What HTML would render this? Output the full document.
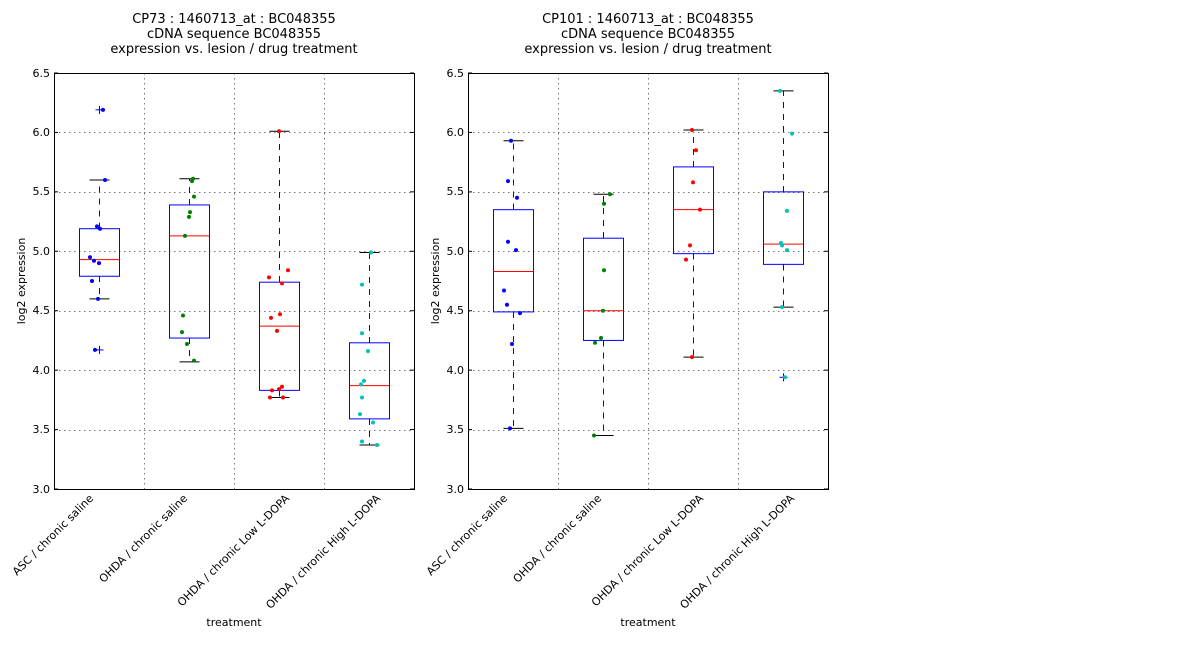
<!DOCTYPE html>
<html><head><meta charset="utf-8"><style>
body{margin:0;background:#fff;width:1200px;height:640px;overflow:hidden}
svg{font-family:"DejaVu Sans","Liberation Sans",sans-serif}
</style></head><body>
<svg id="s" width="1200" height="640" xmlns="http://www.w3.org/2000/svg">
<g font-size="13" text-anchor="middle" fill="#000">
<text x="234" y="23">CP73 : 1460713_at : BC048355</text>
<text x="234" y="38">cDNA sequence BC048355</text>
<text x="234" y="53">expression vs. lesion / drug treatment</text>
<text x="648" y="23">CP101 : 1460713_at : BC048355</text>
<text x="648" y="38">cDNA sequence BC048355</text>
<text x="648" y="53">expression vs. lesion / drug treatment</text>
</g>
<g font-size="11" text-anchor="end">
<text x="50" y="493">3.0</text><text x="50" y="433">3.5</text><text x="50" y="374">4.0</text><text x="50" y="314">4.5</text><text x="50" y="255">5.0</text><text x="50" y="195">5.5</text><text x="50" y="136">6.0</text><text x="50" y="77">6.5</text>
<text x="464" y="493">3.0</text><text x="464" y="433">3.5</text><text x="464" y="374">4.0</text><text x="464" y="314">4.5</text><text x="464" y="255">5.0</text><text x="464" y="195">5.5</text><text x="464" y="136">6.0</text><text x="464" y="77">6.5</text>
</g>
<g font-size="11" text-anchor="middle">
<text transform="translate(25,281) rotate(-90)">log2 expression</text>
<text transform="translate(439,281) rotate(-90)">log2 expression</text>
<text x="234" y="626">treatment</text>
<text x="648" y="626">treatment</text>
</g>
<g font-size="11" text-anchor="end">
<text transform="translate(94,499) rotate(-45)">ASC / chronic saline</text>
<text transform="translate(188,499) rotate(-45)">OHDA / chronic saline</text>
<text transform="translate(290,499) rotate(-45)">OHDA / chronic Low L-DOPA</text>
<text transform="translate(381,499) rotate(-45)">OHDA / chronic High L-DOPA</text>
<text transform="translate(508,499) rotate(-45)">ASC / chronic saline</text>
<text transform="translate(602,499) rotate(-45)">OHDA / chronic saline</text>
<text transform="translate(704,499) rotate(-45)">OHDA / chronic Low L-DOPA</text>
<text transform="translate(795,499) rotate(-45)">OHDA / chronic High L-DOPA</text>
</g>
</svg>
<script>
var s=document.getElementById('s'),NS='http://www.w3.org/2000/svg';
function el(t,a){var e=document.createElementNS(NS,t);for(var k in a)e.setAttribute(k,a[k]);s.appendChild(e);return e;}
function Y(v){return 489-(v-3)*118.857;}
var cols=['#0000ff','#008000','#ff0000','#00bfbf'];
var P=[
 {x0:54,b:[[4.79,5.19,4.93,4.60,5.60,[6.19,4.17]],[4.27,5.39,5.13,4.07,5.61,[]],[3.83,4.74,4.37,3.77,6.01,[]],[3.59,4.23,3.87,3.37,4.99,[]]],
  p:[[[6.19,103],[5.60,105],[5.21,97],[5.19,100],[4.95,90],[4.92,94],[4.90,99],[4.75,92],[4.60,98],[4.17,95]],
     [[5.61,193],[5.59,192],[5.46,194],[5.33,190],[5.29,189],[5.13,185],[4.46,183],[4.32,182],[4.22,187],[4.08,194]],
     [[6.01,279],[4.84,288],[4.78,269],[4.73,282],[4.47,280],[4.44,271],[4.33,277],[3.86,282],[3.84,279],[3.83,272],[3.77,270],[3.77,283]],
     [[4.99,371],[4.72,362],[4.31,362],[4.16,368],[3.91,364],[3.88,361],[3.77,362],[3.63,360],[3.56,373],[3.40,362],[3.37,377]]]},
 {x0:468,b:[[4.49,5.35,4.83,3.51,5.93,[]],[4.25,5.11,4.50,3.45,5.48,[]],[4.98,5.71,5.35,4.11,6.02,[]],[4.89,5.50,5.06,4.53,6.35,[3.94]]],
  p:[[[5.93,511],[5.59,508],[5.45,517],[5.08,508],[5.01,516],[4.67,504],[4.55,507],[4.48,520],[4.22,512],[3.51,510]],
     [[5.48,610],[5.40,604],[4.84,604],[4.50,603],[4.27,601],[4.23,595],[3.45,594]],
     [[6.02,692],[5.85,696],[5.58,693],[5.35,700],[5.05,690],[4.93,686],[4.11,692]],
     [[6.35,780],[5.99,792],[5.34,787],[5.07,781],[5.05,782],[5.01,787],[4.53,782],[3.94,785]]]}];
P.forEach(function(pn){
 var x0=pn.x0;
 for(var i=1;i<7;i++){var y=Math.round(Y(3+i*0.5))+0.5;el('line',{x1:x0,x2:x0+360,y1:y,y2:y,stroke:'#777','stroke-dasharray':'1.5,3.5','stroke-width':1});}
 for(var j=1;j<4;j++){var x=x0+j*90+0.5;el('line',{x1:x,x2:x,y1:73,y2:489,stroke:'#777','stroke-dasharray':'1.5,3.5','stroke-width':1});}
 pn.b.forEach(function(b,i){
  var cx=x0+45+i*90+0.5;
  el('line',{x1:cx,x2:cx,y1:Y(b[1]),y2:Y(b[4]),stroke:'#0000ff','stroke-dasharray':'6,6','shape-rendering':'crispEdges'});
  el('line',{x1:cx,x2:cx,y1:Y(b[0]),y2:Y(b[3]),stroke:'#0000ff','stroke-dasharray':'6,6','shape-rendering':'crispEdges'});
  el('line',{x1:cx-10,x2:cx+10,y1:Y(b[4]),y2:Y(b[4]),stroke:'#000'});
  el('line',{x1:cx-10,x2:cx+10,y1:Y(b[3]),y2:Y(b[3]),stroke:'#000'});
  el('rect',{x:cx-20,y:Y(b[1]),width:40,height:Y(b[0])-Y(b[1]),fill:'none',stroke:'#0000ff'});
  el('line',{x1:cx-20,x2:cx+20,y1:Y(b[2]),y2:Y(b[2]),stroke:'#ff0000'});
  b[5].forEach(function(f){var y=Y(f);el('line',{x1:cx-4,x2:cx+4,y1:y,y2:y,stroke:'#0000ff'});el('line',{x1:cx,x2:cx,y1:y-4,y2:y+4,stroke:'#0000ff'});});
 });
 pn.p.forEach(function(g,i){g.forEach(function(q){el('circle',{cx:q[1],cy:Y(q[0]),r:2,fill:cols[i]});});});
 el('rect',{x:x0+0.5,y:73.5,width:360,height:416,fill:'none',stroke:'#000'});
 for(var i=0;i<8;i++){var y=Y(3+i*0.5);el('line',{x1:x0,x2:x0+4,y1:y,y2:y,stroke:'#000'});el('line',{x1:x0+356,x2:x0+360,y1:y,y2:y,stroke:'#000'});}
});
</script>
</body></html>
